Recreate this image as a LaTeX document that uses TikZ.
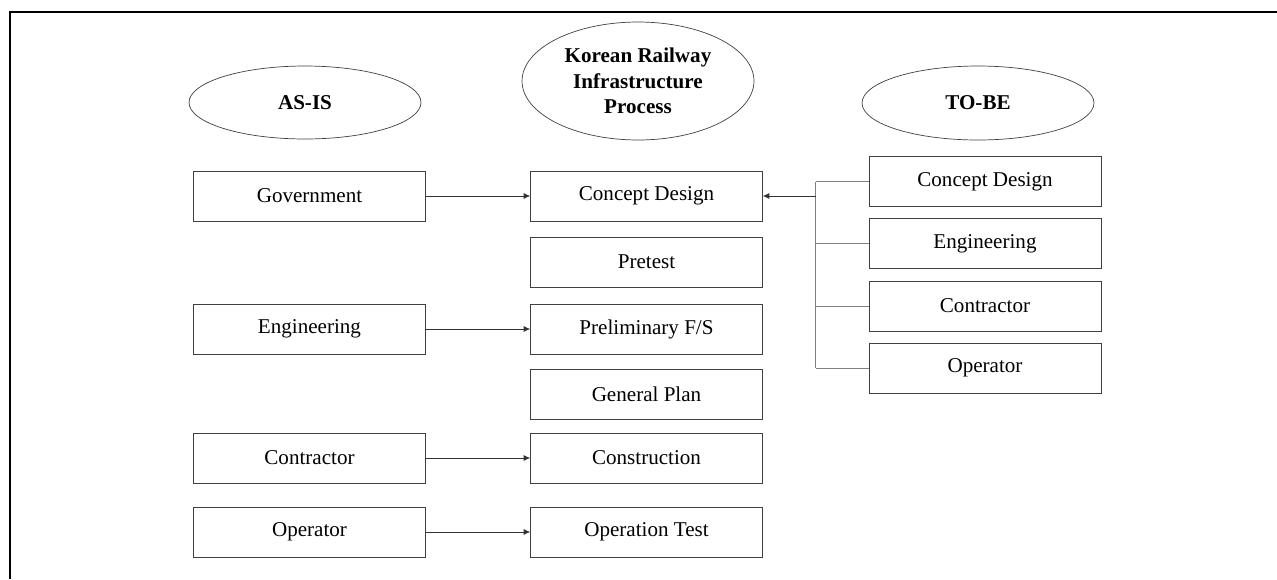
\documentclass[tikz,border=0pt]{standalone}
\usepackage{fontspec}
\setmainfont{Liberation Serif}
\usetikzlibrary{arrows.meta, positioning, shapes.geometric}

\begin{document}
\begin{tikzpicture}[
    x=0.02cm, y=-0.02cm,
    node distance=0.23cm,
    box/.style={draw=black!75, minimum width=4.64cm, minimum height=1cm, inner sep=0pt, align=center, font=\fontsize{12}{14.5}\selectfont},
    head/.style={draw=black!75, ellipse, minimum width=4.64cm, inner sep=0pt, align=center, font=\fontsize{12}{14.5}\selectfont\bfseries},
    arrow/.style={-{Latex[length=1.3mm, width=1.2mm]}, black!80},
    branch/.style={draw=black!50}
]
    \useasboundingbox (0,0) rectangle (1277,579);
    \draw[line width=0.8pt] (10,579) -- (10,12) -- (1277,12);

    % headers
    \node[head, minimum height=1.46cm] (asis) at (305,102.5) {AS-IS};
    \node[head, minimum height=2.36cm] (process) at (638,81) {Korean Railway\\Infrastructure\\Process};
    \node[head, minimum height=1.48cm] (tobe) at (978,103) {TO-BE};

    % as-is column
    \node[box] (gov) at (309.5,196) {Government};
    \node[box] (eng) at (309.5,329) {Engineering};
    \node[box] (con) at (309.5,458) {Contractor};
    \node[box] (ope) at (309.5,532) {Operator};

    % process column
    \node[box] (concept) at (646.5,196) {Concept Design};
    \node[box] (pretest) at (646.5,262) {Pretest};
    \node[box] (prelim) at (646.5,329) {Preliminary F/S};
    \node[box] (plan) at (646.5,394.5) {General Plan};
    \node[box] (constr) at (646.5,458) {Construction};
    \node[box] (optest) at (646.5,532) {Operation Test};

    % to-be column
    \node[box] (tconcept) at (985,181.5) {Concept Design};
    \node[box] (teng) [below=of tconcept] {Engineering};
    \node[box] (tcon) [below=of teng] {Contractor};
    \node[box] (tope) [below=of tcon] {Operator};

    \draw[arrow] (gov) -- (concept);
    \draw[arrow] (eng) -- (prelim);
    \draw[arrow] (con) -- (constr);
    \draw[arrow] (ope) -- (optest);

    % to-be bus
    \coordinate (bus) at (815.5,196);
    \draw[branch] (tconcept.west -| bus) -- (tope.west -| bus);
    \foreach \n in {tconcept, teng, tcon, tope}
        \draw[branch] (\n.west) -- (\n.west -| bus);
    \draw[arrow] (bus) -- (concept.east);
\end{tikzpicture}
\end{document}
